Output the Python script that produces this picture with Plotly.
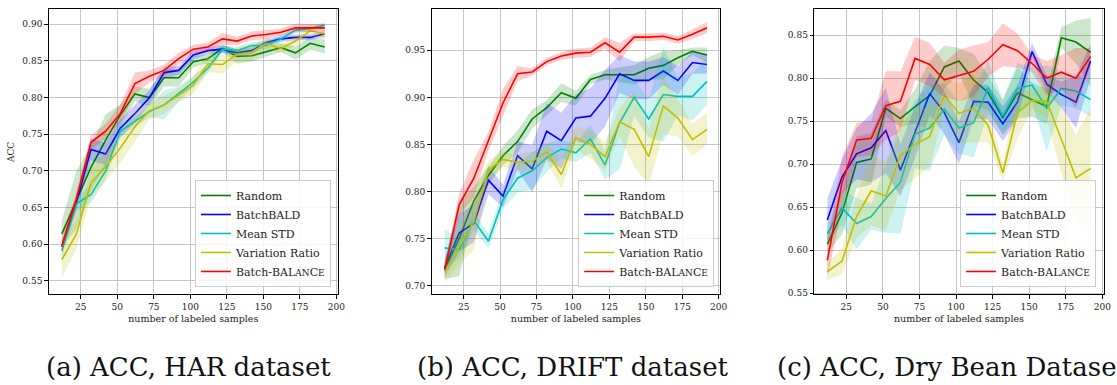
import plotly.graph_objects as go

# Number of labeled samples at each acquisition round
samples = [12, 22, 32, 42, 52, 62, 72, 82, 92, 102, 112, 122, 132, 142, 152, 162, 172, 182, 192]

methods = ["Random", "BatchBALD", "Mean STD", "Variation Ratio", "Batch-BALanCe"]
legend_names = ["Random", "BatchBALD", "Mean STD", "Variation Ratio",
                "Batch-BAL<span style='font-size:9px'>AN</span>C<span style='font-size:9px'>E</span>"]
line_colors = ["#008000", "#0000ff", "#00bfbf", "#bfbf00", "#ff0000"]
band_colors = ["rgba(0,128,0,0.2)", "rgba(0,0,255,0.2)", "rgba(0,191,191,0.2)",
               "rgba(191,191,0,0.2)", "rgba(255,0,0,0.2)"]

# ---- HAR dataset: mean accuracy and standard deviation ----
har_random = [0.614, 0.660, 0.705, 0.742, 0.776, 0.805, 0.800, 0.827, 0.827, 0.849,
              0.853, 0.867, 0.856, 0.857, 0.863, 0.868, 0.861, 0.874, 0.869]
har_batchbald = [0.596, 0.657, 0.729, 0.723, 0.758, 0.778, 0.800, 0.834, 0.837, 0.858,
                 0.864, 0.866, 0.861, 0.864, 0.875, 0.880, 0.882, 0.882, 0.887]
har_meanstd = [0.591, 0.655, 0.668, 0.700, 0.754, 0.767, 0.781, 0.790, 0.805, 0.821,
               0.840, 0.866, 0.864, 0.871, 0.871, 0.880, 0.892, 0.894, 0.899]
har_varratio = [0.579, 0.614, 0.684, 0.706, 0.731, 0.760, 0.782, 0.790, 0.803, 0.817,
                0.846, 0.845, 0.859, 0.862, 0.874, 0.867, 0.877, 0.891, 0.887]
har_balance = [0.598, 0.662, 0.739, 0.754, 0.778, 0.819, 0.829, 0.837, 0.853, 0.866,
               0.869, 0.880, 0.877, 0.884, 0.886, 0.889, 0.895, 0.895, 0.895]

har_random_std = [0.018, 0.040, 0.030, 0.035, 0.015, 0.010, 0.012, 0.012, 0.012, 0.008,
                  0.006, 0.005, 0.010, 0.008, 0.007, 0.006, 0.009, 0.009, 0.009]
har_batchbald_std = [0.006, 0.010, 0.015, 0.015, 0.012, 0.012, 0.010, 0.008, 0.006, 0.006,
                     0.005, 0.005, 0.005, 0.005, 0.004, 0.004, 0.004, 0.004, 0.004]
har_meanstd_std = [0.010, 0.010, 0.012, 0.012, 0.008, 0.006, 0.008, 0.020, 0.010, 0.008,
                   0.006, 0.005, 0.005, 0.005, 0.005, 0.005, 0.004, 0.004, 0.004]
har_varratio_std = [0.025, 0.020, 0.020, 0.020, 0.020, 0.020, 0.012, 0.012, 0.010, 0.012,
                    0.012, 0.012, 0.010, 0.010, 0.008, 0.006, 0.006, 0.006, 0.010]
har_balance_std = [0.010, 0.010, 0.010, 0.010, 0.012, 0.015, 0.008, 0.008, 0.008, 0.006,
                   0.006, 0.008, 0.006, 0.006, 0.006, 0.005, 0.006, 0.005, 0.005]

# ---- DRIFT dataset ----
drift_random = [0.717, 0.750, 0.790, 0.817, 0.838, 0.853, 0.877, 0.889, 0.905, 0.899,
                0.919, 0.924, 0.924, 0.924, 0.931, 0.934, 0.942, 0.949, 0.945]
drift_batchbald = [0.719, 0.756, 0.766, 0.812, 0.795, 0.838, 0.824, 0.864, 0.854, 0.878,
                   0.880, 0.899, 0.925, 0.918, 0.918, 0.928, 0.918, 0.937, 0.935]
drift_meanstd = [0.740, 0.738, 0.769, 0.747, 0.791, 0.814, 0.822, 0.836, 0.845, 0.841,
                 0.856, 0.828, 0.873, 0.900, 0.877, 0.903, 0.901, 0.901, 0.917]
drift_varratio = [0.715, 0.742, 0.768, 0.823, 0.834, 0.831, 0.832, 0.842, 0.818, 0.857,
                  0.850, 0.837, 0.874, 0.866, 0.837, 0.891, 0.878, 0.855, 0.866]
drift_balance = [0.717, 0.786, 0.814, 0.853, 0.894, 0.925, 0.927, 0.938, 0.944, 0.947,
                 0.948, 0.958, 0.948, 0.964, 0.964, 0.965, 0.961, 0.967, 0.974]

drift_random_std = [0.010, 0.040, 0.015, 0.010, 0.010, 0.012, 0.010, 0.008, 0.010, 0.008,
                    0.005, 0.005, 0.008, 0.010, 0.012, 0.015, 0.008, 0.004, 0.008]
drift_batchbald_std = [0.010, 0.020, 0.020, 0.015, 0.012, 0.015, 0.025, 0.030, 0.030, 0.025,
                       0.030, 0.030, 0.020, 0.020, 0.020, 0.015, 0.015, 0.012, 0.010]
drift_meanstd_std = [0.020, 0.010, 0.010, 0.008, 0.010, 0.015, 0.020, 0.015, 0.010, 0.010,
                     0.015, 0.015, 0.050, 0.020, 0.020, 0.050, 0.020, 0.025, 0.025]
drift_varratio_std = [0.012, 0.020, 0.030, 0.010, 0.008, 0.008, 0.010, 0.010, 0.015, 0.012,
                      0.015, 0.015, 0.015, 0.040, 0.030, 0.030, 0.020, 0.017, 0.017]
drift_balance_std = [0.005, 0.012, 0.020, 0.010, 0.015, 0.008, 0.004, 0.004, 0.004, 0.005,
                     0.005, 0.006, 0.010, 0.004, 0.004, 0.004, 0.004, 0.005, 0.006]

# ---- Dry Bean dataset ----
bean_random = [0.607, 0.643, 0.702, 0.706, 0.765, 0.753, 0.767, 0.780, 0.813, 0.820,
               0.798, 0.783, 0.754, 0.783, 0.775, 0.767, 0.847, 0.842, 0.830]
bean_batchbald = [0.635, 0.685, 0.712, 0.719, 0.739, 0.693, 0.737, 0.782, 0.760, 0.725,
                  0.773, 0.772, 0.747, 0.772, 0.831, 0.793, 0.781, 0.772, 0.820]
bean_meanstd = [0.619, 0.649, 0.631, 0.639, 0.660, 0.679, 0.735, 0.742, 0.764, 0.742,
                0.748, 0.789, 0.756, 0.788, 0.792, 0.765, 0.788, 0.785, 0.775]
bean_varratio = [0.575, 0.587, 0.639, 0.669, 0.663, 0.710, 0.723, 0.732, 0.780, 0.759,
                 0.765, 0.745, 0.690, 0.760, 0.774, 0.773, 0.729, 0.684, 0.695]
bean_balance = [0.588, 0.678, 0.728, 0.730, 0.768, 0.773, 0.823, 0.816, 0.798, 0.803,
                0.808, 0.822, 0.839, 0.832, 0.817, 0.800, 0.807, 0.800, 0.825]

bean_random_std = [0.010, 0.025, 0.030, 0.030, 0.010, 0.010, 0.020, 0.040, 0.025, 0.015,
                   0.030, 0.020, 0.020, 0.030, 0.020, 0.020, 0.012, 0.025, 0.040]
bean_batchbald_std = [0.025, 0.020, 0.030, 0.040, 0.050, 0.030, 0.030, 0.025, 0.025, 0.025,
                      0.020, 0.020, 0.020, 0.020, 0.010, 0.010, 0.015, 0.030, 0.020]
bean_meanstd_std = [0.010, 0.020, 0.030, 0.015, 0.040, 0.060, 0.040, 0.050, 0.030, 0.030,
                    0.040, 0.030, 0.020, 0.030, 0.020, 0.050, 0.020, 0.020, 0.020]
bean_varratio_std = [0.010, 0.015, 0.025, 0.040, 0.040, 0.040, 0.040, 0.035, 0.020, 0.035,
                     0.040, 0.020, 0.010, 0.030, 0.010, 0.020, 0.040, 0.050, 0.070]
bean_balance_std = [0.020, 0.030, 0.020, 0.020, 0.040, 0.035, 0.025, 0.025, 0.020, 0.030,
                    0.030, 0.020, 0.025, 0.020, 0.010, 0.020, 0.020, 0.035, 0.010]

x_ticks = [25, 50, 75, 100, 125, 150, 175, 200]
har_ticks = [0.55, 0.60, 0.65, 0.70, 0.75, 0.80, 0.85, 0.90]
drift_ticks = [0.70, 0.75, 0.80, 0.85, 0.90, 0.95]
bean_ticks = [0.55, 0.60, 0.65, 0.70, 0.75, 0.80, 0.85]

captions = ["(a) ACC, HAR dataset", "(b) ACC, DRIFT dataset", "(c) ACC, Dry Bean Dataset"]

panels = [
    dict(means=[har_random, har_batchbald, har_meanstd, har_varratio, har_balance],
         stds=[har_random_std, har_batchbald_std, har_meanstd_std, har_varratio_std, har_balance_std],
         ticks=har_ticks, yrange=[0.5315, 0.9202]),
    dict(means=[drift_random, drift_batchbald, drift_meanstd, drift_varratio, drift_balance],
         stds=[drift_random_std, drift_batchbald_std, drift_meanstd_std, drift_varratio_std, drift_balance_std],
         ticks=drift_ticks, yrange=[0.6905, 0.9935]),
    dict(means=[bean_random, bean_batchbald, bean_meanstd, bean_varratio, bean_balance],
         stds=[bean_random_std, bean_batchbald_std, bean_meanstd_std, bean_varratio_std, bean_balance_std],
         ticks=bean_ticks, yrange=[0.5484, 0.8800]),
]

W, H = 1117, 385
FONT = "DejaVu Serif"
x_domains = [[49 / W, 340 / W], [434.3 / W, 724.7 / W], [819.3 / W, 1110.7 / W]]
y_domain = [1 - 297.5 / H, 1 - 9.5 / H]
legend_right = [333 / W, 718.7 / W, 1103 / W]
legend_bottom = 1 - 290 / H
caption_x = [190 / W, 576.5 / W, 780 / W]

fig = go.Figure()
layout = dict(
    width=W, height=H,
    margin=dict(l=0, r=0, t=0, b=0),
    paper_bgcolor="white", plot_bgcolor="white",
    font=dict(family=FONT, color="#222222"),
    annotations=[],
)

for p, panel in enumerate(panels):
    sfx = "" if p == 0 else str(p + 1)
    xa, ya = "x" + sfx, "y" + sfx
    leg = "legend" + sfx
    for k in range(len(methods)):
        mean = panel["means"][k]
        std = panel["stds"][k]
        upper = [m + s for m, s in zip(mean, std)]
        lower = [m - s for m, s in zip(mean, std)]
        fig.add_trace(go.Scatter(
            x=samples + samples[::-1], y=upper + lower[::-1],
            fill="toself", fillcolor=band_colors[k], line=dict(width=0),
            mode="lines", hoverinfo="skip", showlegend=False,
            xaxis=xa, yaxis=ya))
        fig.add_trace(go.Scatter(
            x=samples, y=mean, mode="lines", name=legend_names[k],
            line=dict(color=line_colors[k], width=1.6),
            showlegend=True, legend=leg, xaxis=xa, yaxis=ya))

    common = dict(
        showline=True, linecolor="black", linewidth=1, mirror=True,
        ticks="outside", ticklen=3.5, tickcolor="black", tickwidth=1,
        showgrid=True, gridcolor="#c4c4c4", gridwidth=1.2,
        zeroline=False, tickfont=dict(family=FONT, size=9, color="#222222"),
    )
    layout["xaxis" + sfx] = dict(
        common, domain=x_domains[p], range=[3, 201], tickvals=x_ticks,
        anchor=ya,
        title=dict(text="number of labeled samples", standoff=4,
                   font=dict(family=FONT, size=9.5, color="#222222")))
    layout["yaxis" + sfx] = dict(
        common, domain=y_domain, range=panel["yrange"], tickvals=panel["ticks"],
        tickformat=".2f", anchor=xa,
        title=dict(text="ACC" if p == 0 else "", standoff=6,
                   font=dict(family=FONT, size=9, color="#222222")))
    layout[leg] = dict(
        x=legend_right[p], y=legend_bottom, xanchor="right", yanchor="bottom",
        bgcolor="rgba(255,255,255,0.85)", bordercolor="#cccccc", borderwidth=1,
        font=dict(family=FONT, size=11, color="#222222"),
        itemwidth=30, tracegroupgap=0)
    layout["annotations"].append(dict(
        text=captions[p], xref="paper", yref="paper",
        x=caption_x[p], y=1 - 371 / H,
        xanchor="center" if p < 2 else "left", yanchor="middle",
        showarrow=False, font=dict(family=FONT, size=26, color="#111111")))

fig.update_layout(**layout)
fig.write_html("out.html")
